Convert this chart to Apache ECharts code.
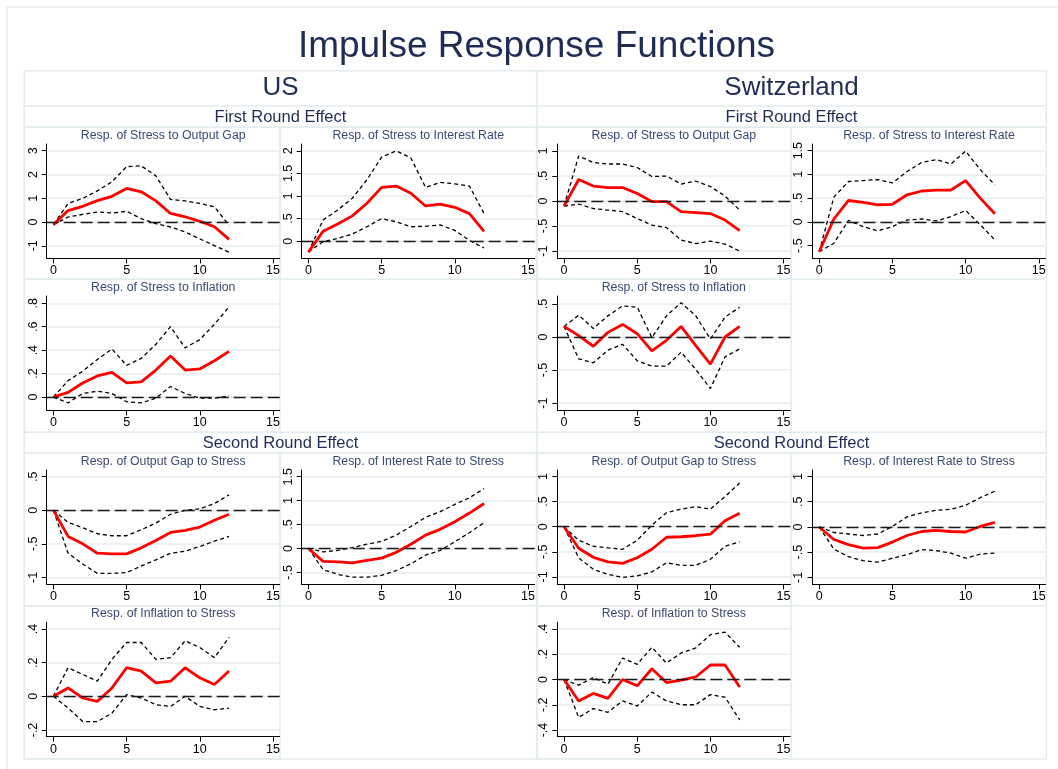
<!DOCTYPE html>
<html>
<head>
<meta charset="utf-8">
<title>Impulse Response Functions</title>
<script src="https://cdn.jsdelivr.net/npm/echarts@6/dist/echarts.min.js"></script>
<style>
  html, body { margin: 0; padding: 0; background: #ffffff; }
  #chart { width: 1058px; height: 769px; }
</style>
</head>
<body>
<div id="chart"></div>
<script>
// Horizon (periods after the shock)
const steps = [0, 1, 2, 3, 4, 5, 6, 7, 8, 9, 10, 11, 12];
const xTicks = [0, 5, 10, 15];

// ---------- US, first round: response of stress ----------
const usStressOutputGap   = [-0.11, 0.48, 0.66, 0.90, 1.08, 1.41, 1.27, 0.89, 0.36, 0.22, 0.03, -0.20, -0.73];
const usStressOutputGapLo = [-0.11, 0.21, 0.32, 0.42, 0.38, 0.45, 0.14, -0.07, -0.21, -0.42, -0.71, -0.99, -1.27];
const usStressOutputGapHi = [-0.11, 0.78, 0.99, 1.31, 1.69, 2.33, 2.36, 1.94, 0.95, 0.89, 0.78, 0.64, -0.14];

const usStressRate   = [-0.24, 0.22, 0.38, 0.56, 0.84, 1.19, 1.22, 1.06, 0.78, 0.82, 0.75, 0.61, 0.22];
const usStressRateLo = [-0.24, -0.01, 0.06, 0.16, 0.32, 0.50, 0.43, 0.32, 0.33, 0.36, 0.24, 0.02, -0.15];
const usStressRateHi = [-0.24, 0.47, 0.69, 0.95, 1.36, 1.86, 2.00, 1.84, 1.19, 1.30, 1.27, 1.22, 0.61];

const usStressInflation   = [0.00, 0.04, 0.12, 0.18, 0.21, 0.12, 0.13, 0.23, 0.35, 0.23, 0.24, 0.31, 0.39];
const usStressInflationLo = [0.00, -0.05, 0.03, 0.05, 0.03, -0.04, -0.05, -0.01, 0.09, 0.03, -0.01, -0.01, 0.01];
const usStressInflationHi = [0.00, 0.14, 0.22, 0.32, 0.41, 0.27, 0.33, 0.45, 0.60, 0.42, 0.49, 0.62, 0.77];

// ---------- Switzerland, first round: response of stress ----------
const chStressOutputGap   = [-0.10, 0.43, 0.30, 0.27, 0.27, 0.15, -0.01, -0.01, -0.21, -0.23, -0.25, -0.38, -0.59];
const chStressOutputGapLo = [-0.10, -0.06, -0.15, -0.18, -0.21, -0.35, -0.48, -0.53, -0.78, -0.85, -0.80, -0.86, -1.00];
const chStressOutputGapHi = [-0.10, 0.90, 0.77, 0.74, 0.74, 0.67, 0.49, 0.50, 0.34, 0.40, 0.29, 0.10, -0.18];

const chStressRate   = [-0.63, 0.06, 0.45, 0.41, 0.36, 0.37, 0.57, 0.65, 0.67, 0.67, 0.87, 0.50, 0.17];
const chStressRateLo = [-0.63, -0.45, 0.03, -0.10, -0.19, -0.10, 0.04, 0.06, 0.02, 0.11, 0.24, -0.06, -0.38];
const chStressRateHi = [-0.63, 0.52, 0.85, 0.87, 0.89, 0.82, 1.06, 1.25, 1.31, 1.22, 1.49, 1.10, 0.78];

const chStressInflation   = [0.16, 0.02, -0.14, 0.07, 0.19, 0.05, -0.21, -0.05, 0.16, -0.13, -0.41, 0.00, 0.16];
const chStressInflationLo = [0.16, -0.33, -0.39, -0.20, -0.11, -0.36, -0.44, -0.44, -0.23, -0.49, -0.78, -0.30, -0.18];
const chStressInflationHi = [0.16, 0.33, 0.13, 0.32, 0.47, 0.45, -0.01, 0.32, 0.52, 0.32, -0.03, 0.30, 0.45];

// ---------- US, second round: response to stress ----------
const usOutputGapStress   = [0.00, -0.39, -0.50, -0.64, -0.65, -0.65, -0.56, -0.45, -0.33, -0.30, -0.25, -0.15, -0.06];
const usOutputGapStressLo = [0.00, -0.64, -0.80, -0.94, -0.94, -0.93, -0.83, -0.74, -0.64, -0.61, -0.54, -0.46, -0.39];
const usOutputGapStressHi = [0.00, -0.18, -0.26, -0.35, -0.38, -0.38, -0.29, -0.19, -0.06, 0.00, 0.02, 0.10, 0.23];

const usRateStress   = [0.00, -0.27, -0.28, -0.30, -0.25, -0.20, -0.08, 0.09, 0.28, 0.40, 0.56, 0.74, 0.94];
const usRateStressLo = [0.00, -0.44, -0.54, -0.60, -0.60, -0.56, -0.46, -0.32, -0.14, -0.04, 0.14, 0.33, 0.54];
const usRateStressHi = [0.00, -0.07, -0.04, 0.02, 0.09, 0.15, 0.28, 0.46, 0.65, 0.77, 0.92, 1.06, 1.25];

const usInflationStress   = [0.00, 0.05, -0.01, -0.03, 0.05, 0.17, 0.15, 0.08, 0.09, 0.17, 0.11, 0.07, 0.15];
const usInflationStressLo = [0.00, -0.07, -0.15, -0.15, -0.10, 0.01, -0.01, -0.05, -0.06, 0.00, -0.06, -0.08, -0.07];
const usInflationStressHi = [0.00, 0.17, 0.13, 0.09, 0.22, 0.32, 0.32, 0.22, 0.23, 0.33, 0.29, 0.23, 0.35];

// ---------- Switzerland, second round: response to stress ----------
const chOutputGapStress   = [0.00, -0.43, -0.61, -0.70, -0.73, -0.62, -0.45, -0.21, -0.20, -0.18, -0.15, 0.12, 0.27];
const chOutputGapStressLo = [0.00, -0.62, -0.85, -0.95, -1.01, -0.98, -0.90, -0.72, -0.77, -0.77, -0.65, -0.39, -0.30];
const chOutputGapStressHi = [0.00, -0.27, -0.39, -0.42, -0.45, -0.27, 0.03, 0.28, 0.35, 0.40, 0.35, 0.60, 0.87];

const chRateStress   = [0.00, -0.25, -0.35, -0.42, -0.41, -0.30, -0.17, -0.09, -0.07, -0.09, -0.10, 0.01, 0.09];
const chRateStressLo = [0.00, -0.44, -0.59, -0.67, -0.70, -0.62, -0.55, -0.45, -0.47, -0.52, -0.62, -0.54, -0.52];
const chRateStressHi = [0.00, -0.11, -0.14, -0.17, -0.14, 0.01, 0.20, 0.28, 0.33, 0.35, 0.43, 0.58, 0.71];

const chInflationStress   = [0.00, -0.17, -0.11, -0.15, 0.00, -0.05, 0.085, -0.024, -0.005, 0.02, 0.115, 0.115, -0.06];
const chInflationStressLo = [0.00, -0.30, -0.23, -0.26, -0.17, -0.21, -0.10, -0.17, -0.20, -0.20, -0.12, -0.14, -0.32];
const chInflationStressHi = [0.00, -0.045, 0.016, -0.037, 0.17, 0.12, 0.255, 0.13, 0.21, 0.25, 0.355, 0.375, 0.255];

// Y tick labels for each panel
const ticksUsStressOutputGap = [-1, 0, 1, 2, 3];
const ticksUsStressRate      = [0, 0.5, 1, 1.5, 2];
const ticksUsStressInflation = [0, 0.2, 0.4, 0.6, 0.8];
const ticksChStressOutputGap = [-1, -0.5, 0, 0.5, 1];
const ticksChStressRate      = [-0.5, 0, 0.5, 1, 1.5];
const ticksChStressInflation = [-1, -0.5, 0, 0.5];
const ticksUsOutputGapStress = [-1, -0.5, 0, 0.5];
const ticksUsRateStress      = [-0.5, 0, 0.5, 1, 1.5];
const ticksUsInflationStress = [-0.2, 0, 0.2, 0.4];
const ticksChOutputGapStress = [-1, -0.5, 0, 0.5, 1];
const ticksChRateStress      = [-1, -0.5, 0, 0.5, 1];
const ticksChInflationStress = [-0.4, -0.2, 0, 0.2, 0.4];

// ---------- layout ----------
const FONT = '"Liberation Sans", Arial, Helvetica, sans-serif';
const NAVY = '#1f2d56';
const SUBNAVY = '#3a4a74';
const FRAME = '#e3ecef';

const colLeft = [46.7, 301.7, 557.3, 812.5];   // x of each column's y axis
const plotWidth = 233;
const rowTop = [144, 296, 470, 622.3];         // y of each row's plot top
const plotHeight = 114.4;
const xMin = -0.46, xMax = 15.46;

const panels = [
  { col: 0, row: 0, title: 'Resp. of Stress to Output Gap',    irf: usStressOutputGap, lo: usStressOutputGapLo, hi: usStressOutputGapHi, yMin: -1.53, yMax: 3.28, ticks: ticksUsStressOutputGap },
  { col: 1, row: 0, title: 'Resp. of Stress to Interest Rate', irf: usStressRate, lo: usStressRateLo, hi: usStressRateHi, yMin: -0.38, yMax: 2.15, ticks: ticksUsStressRate },
  { col: 0, row: 1, title: 'Resp. of Stress to Inflation',     irf: usStressInflation, lo: usStressInflationLo, hi: usStressInflationHi, yMin: -0.114, yMax: 0.862, ticks: ticksUsStressInflation },
  { col: 2, row: 0, title: 'Resp. of Stress to Output Gap',    irf: chStressOutputGap, lo: chStressOutputGapLo, hi: chStressOutputGapHi, yMin: -1.146, yMax: 1.14, ticks: ticksChStressOutputGap },
  { col: 3, row: 0, title: 'Resp. of Stress to Interest Rate', irf: chStressRate, lo: chStressRateLo, hi: chStressRateHi, yMin: -0.77, yMax: 1.64, ticks: ticksChStressRate },
  { col: 2, row: 1, title: 'Resp. of Stress to Inflation',     irf: chStressInflation, lo: chStressInflationLo, hi: chStressInflationHi, yMin: -1.11, yMax: 0.62, ticks: ticksChStressInflation },
  { col: 0, row: 2, title: 'Resp. of Output Gap to Stress',    irf: usOutputGapStress, lo: usOutputGapStressLo, hi: usOutputGapStressHi, yMin: -1.105, yMax: 0.60, ticks: ticksUsOutputGapStress },
  { col: 1, row: 2, title: 'Resp. of Interest Rate to Stress', irf: usRateStress, lo: usRateStressLo, hi: usRateStressHi, yMin: -0.75, yMax: 1.64, ticks: ticksUsRateStress },
  { col: 0, row: 3, title: 'Resp. of Inflation to Stress',     irf: usInflationStress, lo: usInflationStressLo, hi: usInflationStressHi, yMin: -0.24, yMax: 0.44, ticks: ticksUsInflationStress },
  { col: 2, row: 2, title: 'Resp. of Output Gap to Stress',    irf: chOutputGapStress, lo: chOutputGapStressLo, hi: chOutputGapStressHi, yMin: -1.15, yMax: 1.13, ticks: ticksChOutputGapStress },
  { col: 3, row: 2, title: 'Resp. of Interest Rate to Stress', irf: chRateStress, lo: chRateStressLo, hi: chRateStressHi, yMin: -1.14, yMax: 1.13, ticks: ticksChRateStress },
  { col: 2, row: 3, title: 'Resp. of Inflation to Stress',     irf: chInflationStress, lo: chInflationStressLo, hi: chInflationStressHi, yMin: -0.453, yMax: 0.453, ticks: ticksChInflationStress }
];

// Stata-style numbers: ".5", "-.5", "1.5"
function stataNum(v) {
  const s = String(Math.round(v * 1000) / 1000);
  return s.replace(/^(-?)0\./, '$1.');
}
const pairs = (ys) => steps.map((x, i) => [x, ys[i]]);

const grid = [], xAxis = [], yAxis = [], series = [];
const titles = [
  { text: 'Impulse Response Functions', left: 536.5, top: 47, fontSize: 37, color: NAVY },
  { text: 'US', left: 280.5, top: 87.5, fontSize: 26, color: NAVY },
  { text: 'Switzerland', left: 791.5, top: 87.5, fontSize: 26, color: NAVY },
  { text: 'First Round Effect', left: 280.5, top: 117, fontSize: 16.5, color: NAVY },
  { text: 'First Round Effect', left: 791.5, top: 117, fontSize: 16.5, color: NAVY },
  { text: 'Second Round Effect', left: 280.5, top: 443.2, fontSize: 16.5, color: NAVY },
  { text: 'Second Round Effect', left: 791.5, top: 443.2, fontSize: 16.5, color: NAVY }
];

panels.forEach((p, i) => {
  const left = colLeft[p.col];
  const top = rowTop[p.row];
  grid.push({ left: left, top: top, width: plotWidth, height: plotHeight, containLabel: false });
  titles.push({ text: p.title, left: left + plotWidth / 2, top: top - 8.6, fontSize: 12.3, color: SUBNAVY });

  xAxis.push({
    type: 'value', gridIndex: i, min: xMin, max: xMax,
    axisLine: { show: true, onZero: false, lineStyle: { color: '#000', width: 1 } },
    axisTick: { show: true, length: 5, customValues: xTicks, lineStyle: { color: '#000', width: 1 } },
    axisLabel: { show: true, customValues: xTicks, margin: 6, fontSize: 12.5, color: '#000', fontFamily: FONT, formatter: stataNum },
    splitLine: { show: false }
  });
  yAxis.push({
    type: 'value', gridIndex: i, min: p.yMin, max: p.yMax,
    axisLine: { show: true, onZero: false, lineStyle: { color: '#000', width: 1 } },
    axisTick: { show: true, length: 5, customValues: p.ticks, lineStyle: { color: '#000', width: 1 } },
    axisLabel: { show: true, customValues: p.ticks, rotate: 90, margin: 7, fontSize: 12.5, color: '#000', fontFamily: FONT, formatter: stataNum },
    splitLine: { show: true, lineStyle: { color: '#e4edf0', width: 1.5 } }
  });

  const band = { type: 'line', xAxisIndex: i, yAxisIndex: i, symbol: 'none', silent: true, z: 3,
                 lineStyle: { color: '#000', width: 1.3, type: [4, 3] } };
  series.push(Object.assign({}, band, { name: p.title + ' lower', data: pairs(p.lo),
    markLine: { silent: true, symbol: 'none', label: { show: false },
      lineStyle: { color: '#1a1a1a', width: 1.3, type: [12, 5] }, data: [{ yAxis: 0 }] } }));
  series.push(Object.assign({}, band, { name: p.title + ' upper', data: pairs(p.hi) }));
  series.push({ type: 'line', name: p.title, xAxisIndex: i, yAxisIndex: i, symbol: 'none', silent: true, z: 4,
    data: pairs(p.irf), lineStyle: { color: '#ff0000', width: 2.8 } });
});

// Light frames around each combined graph and each panel
const frameRects = [
  [7, 7, 1060, 770],
  [24.3, 70.7, 512.4, 688.3],
  [536.7, 70.7, 509.6, 688.3],
  [24.3, 106, 1022, 21.3],
  [24.3, 432.3, 1022, 21]
];
const panelBoxX = [[24.3, 280], [280, 536.7], [536.7, 791.3], [791.3, 1046.3]];
const panelBoxY = [[127.3, 279.3], [279.3, 432.3], [453.3, 605.7], [605.7, 759]];
panels.forEach(p => {
  const bx = panelBoxX[p.col], by = panelBoxY[p.row];
  frameRects.push([bx[0], by[0], bx[1] - bx[0], by[1] - by[0]]);
});
const graphic = frameRects.map(r => ({
  type: 'rect', silent: true, z: -10,
  shape: { x: r[0], y: r[1], width: r[2], height: r[3] },
  style: { fill: 'none', stroke: FRAME, lineWidth: 1.5 }
}));

const option = {
  backgroundColor: '#ffffff',
  animation: false,
  title: titles.map(t => ({
    text: t.text, left: t.left, top: t.top, padding: 0,
    textAlign: 'center', textVerticalAlign: 'middle',
    textStyle: { fontSize: t.fontSize, fontWeight: 'normal', color: t.color, fontFamily: FONT }
  })),
  graphic: graphic,
  grid: grid,
  xAxis: xAxis,
  yAxis: yAxis,
  series: series
};

const chart = echarts.init(document.getElementById('chart'), null, { renderer: 'canvas' });
chart.setOption(option);
</script>
</body>
</html>
